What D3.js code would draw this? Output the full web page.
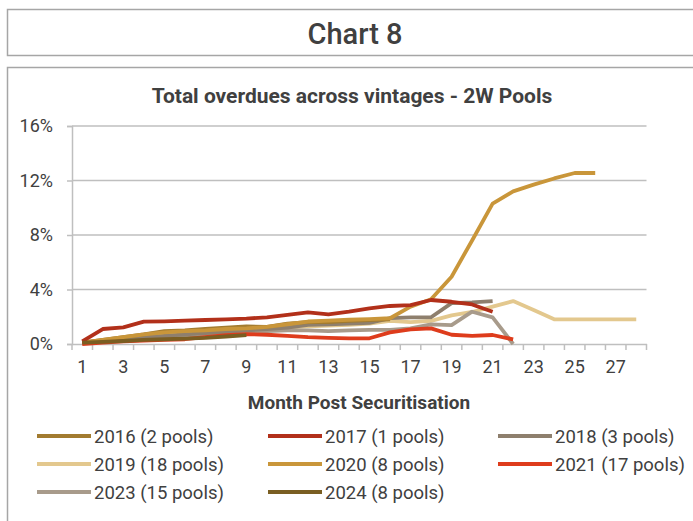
<!DOCTYPE html>
<html><head><meta charset="utf-8">
<script src="https://cdn.jsdelivr.net/npm/d3@7"></script>
<style>
body{margin:0;background:#fff;}
svg text{font-family:"Roboto","Liberation Sans",sans-serif;fill:#404040;}
</style></head><body>
<svg id="c" width="693" height="521"></svg>
<script>
const months = d3.range(1, 29);
const xTickLabels = [1,3,5,7,9,11,13,15,17,19,21,23,25,27];
const yTicks = [0, 0.04, 0.08, 0.12, 0.16];

const s2016 = [0.1,0.3,0.5,0.7,0.95,1.0,1.1,1.2,1.3,1.25,1.5,1.6,1.6,1.7,1.75,1.8];
const s2017 = [0.2,1.1,1.22,1.64,1.66,1.71,1.76,1.81,1.86,1.96,2.13,2.32,2.18,2.37,2.62,2.79,2.86,3.23,3.1,2.9,2.37];
const s2018 = [0.1,0.25,0.4,0.5,0.6,0.7,0.8,0.9,1.0,1.1,1.2,1.4,1.45,1.5,1.55,1.9,1.96,1.96,3.0,3.05,3.15];
const s2019 = [0.1,0.25,0.4,0.55,0.7,0.8,0.9,0.95,1.0,1.1,1.2,1.3,1.35,1.4,1.5,1.7,1.6,1.7,2.1,2.35,2.74,3.15,2.5,1.81,1.81,1.81,1.81,1.81];
const s2020 = [0.1,0.3,0.5,0.7,0.85,0.95,1.0,1.1,1.15,1.25,1.45,1.65,1.72,1.78,1.82,1.89,2.74,3.28,4.94,7.6,10.3,11.2,11.7,12.15,12.55,12.55];
const s2021 = [0.0,0.1,0.2,0.25,0.3,0.35,0.5,0.65,0.72,0.68,0.6,0.5,0.45,0.42,0.42,0.85,1.07,1.15,0.68,0.6,0.66,0.34];
const s2023 = [0.1,0.2,0.3,0.4,0.5,0.6,0.7,0.8,0.9,0.95,1.0,1.0,0.95,1.0,1.03,1.03,1.15,1.44,1.39,2.37,1.96,0.0];
const s2024 = [0.1,0.15,0.22,0.3,0.35,0.4,0.45,0.55,0.65];

const seriesNames = ["2016 (2 pools)","2017 (1 pools)","2018 (3 pools)","2019 (18 pools)","2020 (8 pools)","2021 (17 pools)","2023 (15 pools)","2024 (8 pools)"];
const seriesData = [s2016,s2017,s2018,s2019,s2020,s2021,s2023,s2024];
const colors = ["#A27B30","#B2301A","#8E7F6D","#E3C88E","#C9963A","#DE3C1C","#A89B8B","#7A5E22"];
const drawOrder = [3,6,2,0,4,5,1,7];

(function(){
const svg = d3.select("#c");
const grey = "#a6a6a6";

svg.append("rect").attr("x",7.5).attr("y",9.5).attr("width",700).attr("height",46)
  .attr("fill","none").attr("stroke",grey).attr("stroke-width",1.5);
svg.append("text").attr("x",355).attr("y",44).attr("text-anchor","middle")
  .style("font-size","29px").style("font-weight","500").text("Chart 8");

svg.append("rect").attr("x",7.5).attr("y",67.5).attr("width",700).attr("height",470)
  .attr("fill","none").attr("stroke",grey).attr("stroke-width",1.5);
svg.append("text").attr("x",352).attr("y",103).attr("text-anchor","middle")
  .style("font-size","21px").style("font-weight","bold").text("Total overdues across vintages - 2W Pools");

const pL = 72, pR = 646.5, pT = 126, pB = 344;
const x = d3.scaleBand().domain(months).range([pL, pR]);
const y = d3.scaleLinear().domain([0, 0.16]).range([pB, pT]);

svg.append("g").selectAll("line").data(yTicks.slice(1)).join("line")
  .attr("x1",pL).attr("x2",pR).attr("y1",d=>y(d)).attr("y2",d=>y(d))
  .attr("stroke","#bfbfbf").attr("stroke-width",1.5);

const yAxis = svg.append("g").attr("transform",`translate(${pL},0)`)
  .call(d3.axisLeft(y).tickValues(yTicks).tickFormat(d3.format(".0%")).tickSize(5).tickPadding(14));
yAxis.select(".domain").attr("stroke","#bfbfbf").attr("stroke-width",1.5);
yAxis.selectAll(".tick line").attr("stroke","#bfbfbf").attr("stroke-width",1.5);
yAxis.selectAll("text").style("font-size","18px").attr("fill","#404040");

const xAxis = svg.append("g").attr("transform",`translate(0,${pB})`)
  .call(d3.axisBottom(x).tickValues(xTickLabels).tickSize(0).tickPadding(16));
xAxis.select(".domain").attr("stroke","#bfbfbf").attr("stroke-width",1.5);
xAxis.selectAll("text").style("font-size","18px").attr("fill","#404040");
svg.append("g").selectAll("line").data(months.concat([29])).join("line")
  .attr("x1",d=>d<=28 ? x(d) : pR).attr("x2",d=>d<=28 ? x(d) : pR)
  .attr("y1",pB).attr("y2",pB+6).attr("stroke","#bfbfbf").attr("stroke-width",1.5);

svg.append("text").attr("x",359).attr("y",409).attr("text-anchor","middle")
  .style("font-size","19px").style("font-weight","bold").text("Month Post Securitisation");

const line = d3.line().x((d,i)=>x(i+1)+x.bandwidth()/2).y(d=>y(d/100));
svg.append("g").selectAll("path").data(drawOrder).join("path")
  .attr("d",k=>line(seriesData[k])).attr("fill","none")
  .attr("stroke",k=>colors[k]).attr("stroke-width",3.8).attr("stroke-linejoin","round");

const colX = [37, 268, 498];
const rowY = [436, 464, 492];
const lg = svg.append("g").selectAll("g").data(seriesNames).join("g")
  .attr("transform",(d,i)=>`translate(${colX[i%3]},${rowY[Math.floor(i/3)]})`);
lg.append("line").attr("x1",0).attr("x2",54).attr("y1",0).attr("y2",0)
  .attr("stroke",(d,i)=>colors[i]).attr("stroke-width",4);
lg.append("text").attr("x",57).attr("y",6.5).style("font-size","18.5px").text(d=>d);
})();
</script></body></html>
